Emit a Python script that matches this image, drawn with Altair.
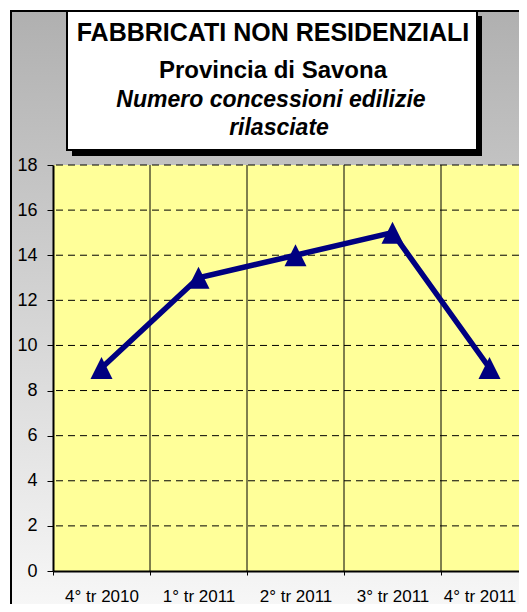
import altair as alt
import pandas as pd

# ---------------- data ----------------
categories = ["4° tr 2010", "1° tr 2011", "2° tr 2011", "3° tr 2011", "4° tr 2011"]
values = [9, 13, 14, 15, 9]
y_ticks = [0, 2, 4, 6, 8, 10, 12, 14, 16, 18]
grid_values = [2, 4, 6, 8, 10, 12, 14, 16, 18]
title_lines = [
    "FABBRICATI NON RESIDENZIALI",
    "Provincia di Savona",
    "Numero concessioni edilizie",
    "rilasciate",
]

# ---------------- style ----------------
FONT = "Liberation Sans"
NAVY = "#000080"
PAD_L, PAD_T, PAD_B = 45, 157, 33
PLOT_W = 466
PLOT_H = 406
X_RANGE = 485
TRI = "M0,-1L1,1L-1,1Z"

df = pd.DataFrame({"cat": categories, "val": values})
vgrid = pd.DataFrame({"cat": categories[1:]})
hgrid = pd.DataFrame({"g": grid_values})
one = pd.DataFrame({"d": [0]})

xscale = alt.Scale(domain=categories, range=[0, X_RANGE], paddingInner=0, paddingOuter=0)
yscale = alt.Scale(domain=[0, 18], nice=False, zero=True)

x_axis = alt.Axis(
    title=None, grid=False, tickBand="extent", labelAngle=0,
    domainColor="black", domainWidth=2, tickColor="black", tickSize=4, tickWidth=1,
    labelFont=FONT, labelFontSize=17, labelColor="black", labelPadding=13, zindex=1,
    labelOffset={"condition": {"test": f"datum.value === '{categories[-1]}'", "value": -10},
                 "value": 0},
)
y_axis = alt.Axis(
    title=None, grid=False, values=y_ticks,
    domainColor="black", domainWidth=2, tickColor="black", tickSize=6, tickWidth=1,
    labelFont=FONT, labelFontSize=18, labelColor="black", labelPadding=10, zindex=1,
)

gray_grad = alt.Gradient(
    gradient="linear",
    stops=[alt.GradientStop(color="#b0b0b0", offset=0),
           alt.GradientStop(color="#fafafa", offset=1)],
    x1=0, x2=0, y1=0, y2=1,
)

background = alt.Chart(one).mark_rect(fill=gray_grad, stroke="black", strokeWidth=2).encode(
    x=alt.value(-42), x2=alt.value(PLOT_W + 40),
    y=alt.value(-154), y2=alt.value(PLOT_H + 60),
)

plot_bg = alt.Chart(one).mark_rect(fill="#FFFF99").encode(
    x=alt.value(0), x2=alt.value("width"),
    y=alt.value(0), y2=alt.value("height"),
)

shadow = alt.Chart(one).mark_rect(fill="black").encode(
    x=alt.value(19), x2=alt.value(429),
    y=alt.value(-149), y2=alt.value(-9),
)
box = alt.Chart(one).mark_rect(fill="white", stroke="black", strokeWidth=2).encode(
    x=alt.value(14), x2=alt.value(424),
    y=alt.value(-154), y2=alt.value(-15),
)

title_specs = [
    (title_lines[0], 220, -124, 25, "normal"),
    (title_lines[1], 220, -87, 24, "normal"),
    (title_lines[2], 218, -58, 23, "italic"),
    (title_lines[3], 226, -30, 23, "italic"),
]
title_layers = []
for txt, xx, yy, fs, style in title_specs:
    title_layers.append(
        alt.Chart(one).mark_text(
            font=FONT, fontSize=fs, fontWeight="bold", fontStyle=style,
            align="center", baseline="alphabetic", color="black",
        ).encode(x=alt.value(xx), y=alt.value(yy), text=alt.value(txt))
    )

hrules = alt.Chart(hgrid).mark_rule(color="black", strokeDash=[7, 5], strokeWidth=1).encode(
    y=alt.Y("g:Q", scale=yscale, axis=y_axis)
)
vrules = alt.Chart(vgrid).mark_rule(color="black", strokeWidth=1).encode(
    x=alt.X("cat:N", scale=xscale, bandPosition=0, axis=x_axis)
)

base = alt.Chart(df).encode(
    x=alt.X("cat:N", scale=xscale, axis=x_axis),
    y=alt.Y("val:Q", scale=yscale, axis=y_axis),
)
line = base.mark_line(color=NAVY, strokeWidth=5.5)
points = base.mark_point(shape=TRI, size=484, filled=True, fill=NAVY, color=NAVY,
                         opacity=1, strokeWidth=0)

chart = alt.layer(
    background, plot_bg, shadow, box, *title_layers, hrules, vrules, line, points
).properties(
    width=PLOT_W, height=PLOT_H,
    autosize=alt.AutoSizeParams(type="none"),
    padding={"left": PAD_L, "top": PAD_T, "right": 0, "bottom": PAD_B},
    background="white",
).configure_view(stroke=None)

chart.save("out.html", embed_options={"renderer": "svg", "actions": False})
